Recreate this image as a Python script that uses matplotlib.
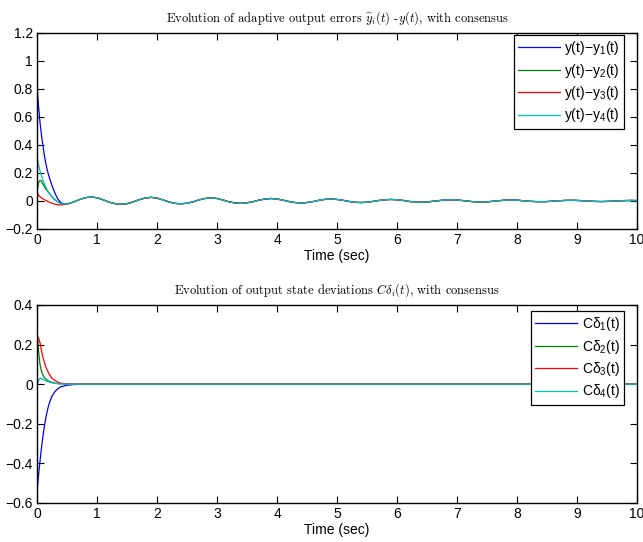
import matplotlib

matplotlib.use("Agg")
import matplotlib.pyplot as plt

plt.rcParams["font.family"] = ["Liberation Sans", "DejaVu Sans"]
plt.rcParams["mathtext.fontset"] = "custom"
plt.rcParams["mathtext.rm"] = "Liberation Sans"
plt.rcParams["mathtext.it"] = "Liberation Sans:italic"

# --- datos: errores de salida (panel superior) ---
t_inicio = [0, 0.025, 0.05, 0.075, 0.1, 0.125, 0.15, 0.175, 0.2, 0.25, 0.3, 0.35, 0.4, 0.45]
e1_inicio = [0.82, 0.68, 0.56, 0.47, 0.39, 0.32, 0.26, 0.215, 0.175, 0.11, 0.055, 0.012, -0.012, -0.022]
e2_inicio = [0.06, 0.13, 0.148, 0.14, 0.12, 0.10, 0.085, 0.07, 0.056, 0.03, 0.008, -0.008, -0.018, -0.022]
e3_inicio = [0.07, 0.04, 0.03, 0.022, 0.015, 0.009, 0.003, -0.002, -0.007, -0.016, -0.023, -0.027, -0.028, -0.026]
e4_inicio = [0.32, 0.26, 0.215, 0.18, 0.145, 0.12, 0.095, 0.075, 0.058, 0.03, 0.008, -0.008, -0.018, -0.022]

# tramo comun de consenso, t = 0.5 ... 10.0 cada 0.1 s
t_cola = [round(0.5 + 0.1 * k, 1) for k in range(96)]
e_cola = [
    -0.022, -0.009, 0.009, 0.023, 0.029, 0.023, 0.009, -0.008, -0.019, -0.023,
    -0.019, -0.007, 0.009, 0.021, 0.026, 0.021, 0.008, -0.007, -0.017, -0.020,
    -0.016, -0.006, 0.008, 0.018, 0.022, 0.018, 0.007, -0.006, -0.014, -0.017,
    -0.013, -0.005, 0.006, 0.014, 0.018, 0.014, 0.006, -0.004, -0.011, -0.014,
    -0.011, -0.004, 0.005, 0.012, 0.014, 0.011, 0.005, -0.003, -0.009, -0.011,
    -0.009, -0.003, 0.004, 0.009, 0.011, 0.009, 0.004, -0.003, -0.007, -0.009,
    -0.007, -0.002, 0.003, 0.007, 0.009, 0.007, 0.003, -0.002, -0.006, -0.007,
    -0.006, -0.002, 0.002, 0.006, 0.007, 0.006, 0.002, -0.002, -0.004, -0.005,
    -0.004, -0.001, 0.002, 0.004, 0.005, 0.004, 0.002, -0.001, -0.003, -0.004,
    -0.003, -0.001, 0.001, 0.003, 0.004, 0.003,
]

# --- datos: desviaciones de estado (panel inferior) ---
t_dev = [0, 0.025, 0.05, 0.075, 0.1, 0.125, 0.15, 0.175, 0.2, 0.25, 0.3, 0.35, 0.4, 0.5, 0.6, 0.8, 1.0, 10.0]
d1 = [-0.55, -0.46, -0.39, -0.32, -0.26, -0.21, -0.165, -0.13, -0.10, -0.06, -0.037, -0.022, -0.013, -0.005, -0.002, 0, 0, 0]
d2 = [0.28, 0.17, 0.10, 0.065, 0.045, 0.033, 0.025, 0.02, 0.015, 0.009, 0.005, 0.003, 0.002, 0.001, 0, 0, 0, 0]
d3 = [0.24, 0.235, 0.21, 0.17, 0.135, 0.108, 0.085, 0.068, 0.052, 0.03, 0.018, 0.01, 0.005, 0.002, 0.001, 0, 0, 0]
d4 = [-0.01, 0.02, 0.03, 0.028, 0.024, 0.02, 0.017, 0.014, 0.011, 0.007, 0.004, 0.003, 0.002, 0.001, 0, 0, 0, 0]

colores = ["#0000ff", "#008000", "#ff0000", "#00bfbf"]
etiquetas_err = [f"y(t)\u2212y$_{i}$(t)" for i in range(1, 5)]
etiquetas_dev = [f"C\u03b4$_{i}$(t)" for i in range(1, 5)]
x_ticks = list(range(11))


def estilo_matlab(ax, yticks, ylabels):
    ax.set_xlim(0, 10)
    ax.set_xticks(x_ticks)
    ax.set_xticklabels([str(v) for v in x_ticks])
    ax.set_yticks(yticks)
    ax.set_yticklabels(ylabels)
    ax.set_ylim(yticks[0], yticks[-1])
    ax.tick_params(direction="in", top=True, right=True, length=5, width=0.8, labelsize=10, pad=3)
    for spine in ax.spines.values():
        spine.set_linewidth(1.0)
    ax.set_xlabel("Time (sec)", fontsize=10, labelpad=1)


def leyenda(ax, ancla):
    leg = ax.legend(
        loc="upper right",
        bbox_to_anchor=ancla,
        fontsize=10,
        handlelength=3.0,
        labelspacing=0.32,
        borderpad=0.3,
        handletextpad=0.35,
        fancybox=False,
        framealpha=1,
        edgecolor="black",
        borderaxespad=0,
    )
    leg.get_frame().set_linewidth(0.9)


fig = plt.figure(figsize=(6.43, 5.42), dpi=100)
ax1 = fig.add_axes([37 / 643, 1 - 229 / 542, 600 / 643, 196 / 542])
ax2 = fig.add_axes([37 / 643, 1 - 503 / 542, 600 / 643, 198 / 542])

t_err = t_inicio + t_cola
for cabeza, color, etiqueta in zip([e1_inicio, e2_inicio, e3_inicio, e4_inicio], colores, etiquetas_err):
    ax1.plot(t_err, cabeza + e_cola, color=color, linewidth=0.9, label=etiqueta)
estilo_matlab(
    ax1,
    [-0.2, 0, 0.2, 0.4, 0.6, 0.8, 1.0, 1.2],
    ["\u22120.2", "0", "0.2", "0.4", "0.6", "0.8", "1", "1.2"],
)
ax1.set_title(
    r"Evolution of adaptive output errors $\widehat{y}_i(t)$ -$y(t)$, with consensus",
    fontfamily="cmr10",
    fontsize=9,
    math_fontfamily="cm",
    pad=8,
)
leyenda(ax1, (0.978, 0.99))

for serie, color, etiqueta in zip([d1, d2, d3, d4], colores, etiquetas_dev):
    ax2.plot(t_dev, serie, color=color, linewidth=0.9, label=etiqueta)
estilo_matlab(
    ax2,
    [-0.6, -0.4, -0.2, 0, 0.2, 0.4],
    ["\u22120.6", "\u22120.4", "\u22120.2", "0", "0.2", "0.4"],
)
ax2.set_title(
    r"Evolution of output state deviations $C\delta_i(t)$, with consensus",
    fontfamily="cmr10",
    fontsize=9,
    math_fontfamily="cm",
    pad=8,
)
leyenda(ax2, (0.978, 0.97))

fig.savefig("out.png", dpi=100, facecolor="white")
